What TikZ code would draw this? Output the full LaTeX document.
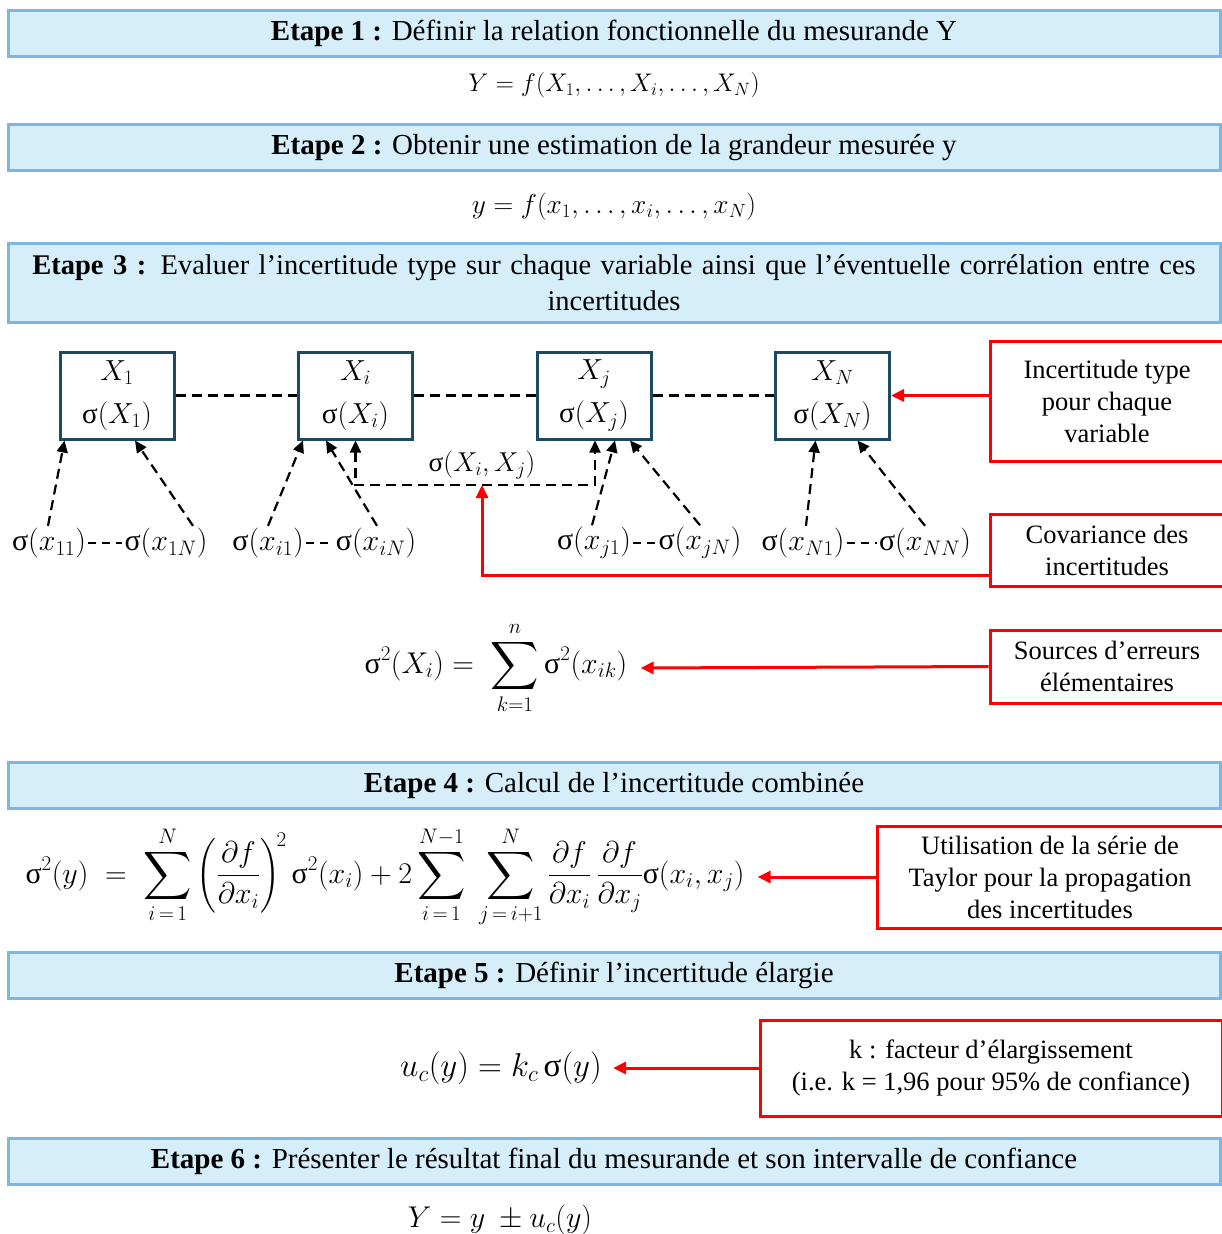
\documentclass[tikz,border=0pt]{standalone}
\usepackage{fix-cm}
\usepackage{amsmath}
\usepackage{fontspec}
\setmainfont{Liberation Serif}
\usetikzlibrary{arrows.meta}
\definecolor{bandfill}{HTML}{D5EEF9}
\definecolor{bandline}{HTML}{7DB5E3}
\definecolor{boxline}{HTML}{1B4A62}
\definecolor{redline}{HTML}{FF0000}
\newcommand\sg{\text{σ}}
\newcommand\bigsum{\mathop{\vcenter{\hbox{\scalebox{1.35}{$\displaystyle\sum$}}}}\limits}
\tikzset{
  band/.style={draw=bandline, fill=bandfill, line width=3pt, minimum width=1212pt, minimum height=46pt, inner sep=0pt, font=\fontsize{29}{36}\selectfont},
  vbox/.style={draw=boxline, line width=3pt, minimum width=114pt, minimum height=87pt, align=center, inner sep=0pt, font=\fontsize{29}{43}\selectfont},
  redbox/.style={draw=redline, line width=3pt, align=center, inner sep=0pt, font=\fontsize{26.5}{32}\selectfont},
  lab/.style={inner sep=2pt, font=\fontsize{30}{30}\selectfont},
  eqn/.style={inner sep=0pt, font=\fontsize{25.5}{30}\selectfont},
  dasharrow/.style={dashed, dash pattern=on 10pt off 6pt, line width=2.2pt, -{Triangle[length=12pt,width=11pt]}},
  dashline/.style={dashed, dash pattern=on 10pt off 6pt, line width=2.2pt},
  redarrow/.style={draw=redline, line width=3pt, -{Triangle[length=13pt,width=12pt]}}
}
\begin{document}
\begin{tikzpicture}[x=1pt,y=-1pt]
\useasboundingbox (0,0) rectangle (1222,1234);
\clip (0,0) rectangle (1222,1234);
\fill[white] (0,0) rectangle (1222,1234);

% Step bands
\node[band] (s1) at (614,33) {\textbf{Etape 1 :} Définir la relation fonctionnelle du mesurande Y};
\node[eqn] (e1) at (614,85) {$Y = f(X_1, \dots, X_i, \dots, X_N)$};
\node[band] (s2) at (614,147.5) {\textbf{Etape 2 :} Obtenir une estimation de la grandeur mesurée y};
\node[eqn, font=\fontsize{27.4}{30}\selectfont] (e2) at (614,207) {$y = f(x_1, \dots, x_i, \dots, x_N)$};
\node[band, minimum height=79pt, text width=1200pt, align=center, font=\fontsize{28.5}{36}\selectfont] (s3) at (614,282.5) {\textbf{Etape 3 :} Evaluer l’incertitude type sur chaque variable ainsi que l’éventuelle corrélation entre ces\\incertitudes};

% variable boxes
\node[vbox] (b1) at (117,395.5) {$X_1$\\$\sg(X_1)$};
\node[vbox] (bi) at (355.5,395.5) {$X_i$\\$\sg(X_i)$};
\node[vbox] (bj) at (594,395.5) {$X_j$\\$\sg(X_j)$};
\node[vbox] (bN) at (832.5,395.5) {$X_N$\\$\sg(X_N)$};
\draw[dashline] (b1.east) -- (bi.west);
\draw[dashline] (bi.east) -- (bj.west);
\draw[dashline] (bj.east) -- (bN.west);

% elementary sources
\node[lab] (l11) at (49,543) {$\sg(x_{11})$};
\node[lab] (l1N) at (166,543) {$\sg(x_{1N})$};
\node[lab] (li1) at (268,543) {$\sg(x_{i1})$};
\node[lab] (liN) at (376,543) {$\sg(x_{iN})$};
\node[lab] (lj1) at (594,543) {$\sg(x_{j1})$};
\node[lab] (ljN) at (700,543) {$\sg(x_{jN})$};
\node[lab] (lN1) at (803,543) {$\sg(x_{N1})$};
\node[lab] (lNN) at (925,543) {$\sg(x_{NN})$};
\draw[dashline, line width=1.6pt, dash pattern=on 8pt off 6pt] (l11.east) -- (l1N.west);
\draw[dashline, line width=1.6pt, dash pattern=on 8pt off 6pt] (li1.east) -- (liN.west);
\draw[dashline, line width=1.6pt, dash pattern=on 8pt off 6pt] (lj1.east) -- (ljN.west);
\draw[dashline, line width=1.6pt, dash pattern=on 8pt off 6pt] (lN1.east) -- (lNN.west);

\draw[dasharrow] ([xshift=-1pt]l11.north) -- ([xshift=6pt]b1.south west);
\draw[dasharrow] ([xshift=27pt]l1N.north) -- ([xshift=18pt]b1.south);
\draw[dasharrow] ([xshift=0pt]li1.north) -- ([xshift=6pt]bi.south west);
\draw[dasharrow] ([xshift=1pt]liN.north) -- ([xshift=29pt]bi.south west);
\draw[dasharrow] ([xshift=-2pt]lj1.north) -- ([xshift=21pt]bj.south);
\draw[dasharrow] ([xshift=0pt]ljN.north) -- ([xshift=36pt]bj.south);
\draw[dasharrow] ([xshift=3pt]lN1.north) -- ([xshift=-17pt]bN.south);
\draw[dasharrow] ([xshift=0pt]lNN.north) -- ([xshift=25pt]bN.south);

% covariance
\coordinate (cm) at (482,485);
\draw[dashline, {Triangle[length=12pt,width=11pt]}-{Triangle[length=12pt,width=11pt]}] (bi.south) |- (cm) -| ([xshift=1pt]bj.south);
\node[lab, font=\fontsize{27.3}{30}\selectfont] (cov) at (482,465) {$\sg(X_i, X_j)$};

% red boxes
\node[redbox, minimum width=234pt, minimum height=120pt] (r1) at (1107,401) {Incertitude type\\pour chaque\\variable};
\node[redbox, minimum width=234pt, minimum height=72pt] (r2) at (1107,550) {Covariance des\\incertitudes};
\node[redbox, minimum width=234pt, minimum height=73pt] (r3) at (1107,666.5) {Sources d’erreurs\\élémentaires};
\node[redbox, minimum width=346pt, minimum height=102pt] (r4) at (1050,877) {Utilisation de la série de\\Taylor pour la propagation\\des incertitudes};
\node[redbox, minimum width=462pt, minimum height=96pt] (r5) at (991,1068) {k : facteur d’élargissement\\(i.e. k = 1,96 pour 95\% de confiance)};

\draw[redarrow] (r1.west |- bN.east) -- (bN.east);
\draw[redarrow] ([yshift=-25pt]r2.west) -| (cm);

% sigma^2(X_i)
\node[eqn, font=\fontsize{30}{34}\selectfont] (eS) at (496,668) {$\displaystyle \sg^2(X_i) = \;\bigsum_{k=1}^{n} \sg^2(x_{ik})$};
\draw[redarrow] (r3.west) -- ([xshift=13pt]eS.east);

% step 4
\node[band] (s4) at (614,785) {\textbf{Etape 4 :} Calcul de l’incertitude combinée};
\node[eqn, font=\fontsize{30}{34}\selectfont] (e4) at (385,877) {$\displaystyle \sg^2(y) \;=\; \bigsum_{i\,=\,1}^{N}\left(\frac{\partial f}{\partial x_i}\right)^{\!2} \sg^2(x_i) + 2\bigsum_{i\,=\,1}^{N-1}\;\bigsum_{j\,=\,i+1}^{N}\frac{\partial f}{\partial x_i}\,\frac{\partial f}{\partial x_j}\sg(x_i, x_j)$};
\draw[redarrow] (r4.west) -- ([xshift=13pt]e4.east);

% step 5
\node[band] (s5) at (614,975) {\textbf{Etape 5 :} Définir l’incertitude élargie};
\node[eqn, font=\fontsize{33}{36}\selectfont] (e5) at (501,1068) {$u_c(y) = k_c\, \sg(y)$};
\draw[redarrow] (r5.west) -- ([xshift=11pt]e5.east);

% step 6
\node[band] (s6) at (614,1161) {\textbf{Etape 6 :} Présenter le résultat final du mesurande et son intervalle de confiance};
\node[eqn, font=\fontsize{30}{34}\selectfont] (e6) at (500,1220) {$Y = y\ \pm u_c(y)$};
\end{tikzpicture}
\end{document}
